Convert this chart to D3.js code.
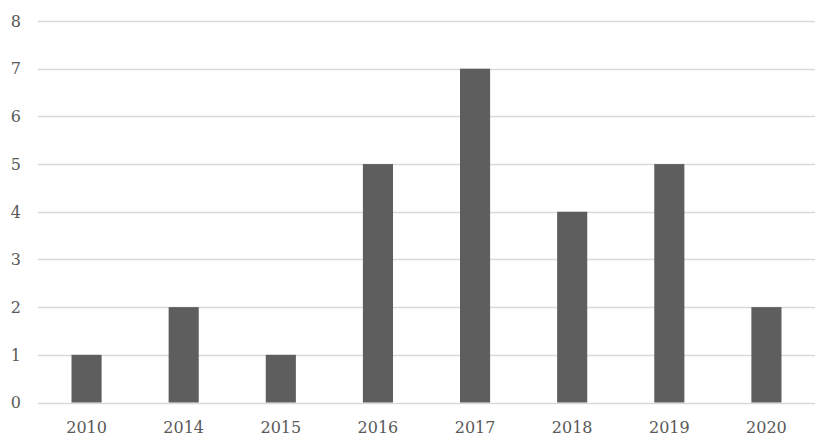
<!DOCTYPE html>
<html>
<head>
<meta charset="utf-8">
<script src="https://cdn.jsdelivr.net/npm/d3@7"></script>
<style>
  html, body { margin: 0; padding: 0; background: #fff; }
  svg { display: block; }
  text { font-family: "DejaVu Serif", serif; fill: #595959; }
</style>
</head>
<body>
<svg id="chart" width="822" height="444"></svg>
<script>
const categories = ["2010", "2014", "2015", "2016", "2017", "2018", "2019", "2020"];
const values = [1, 2, 1, 5, 7, 4, 5, 2];
const yTicks = [0, 1, 2, 3, 4, 5, 6, 7, 8];

(function () {
const svg = d3.select("#chart");
const plotLeft = 38, plotRight = 815, plotTop = 21, plotBottom = 402.5;

const x = d3.scaleBand().domain(categories).range([plotLeft, plotRight]).paddingInner(0.69).paddingOuter(0.345);
const y = d3.scaleLinear().domain([0, 8]).range([plotBottom, plotTop]);

// gridlines
svg.append("g").selectAll("line").data(yTicks).join("line")
  .attr("x1", plotLeft).attr("x2", plotRight)
  .attr("y1", d => Math.round(y(d)) + 0.5).attr("y2", d => Math.round(y(d)) + 0.5)
  .attr("stroke", "#d9d9d9").attr("stroke-width", 1.3);

// y labels
svg.append("g").selectAll("text").data(yTicks).join("text")
  .attr("x", 21).attr("y", d => y(d)).attr("dy", "0.36em")
  .attr("text-anchor", "end").attr("font-size", 16)
  .text(d => d);

// bars
svg.append("g").selectAll("rect").data(values).join("rect")
  .attr("x", (d, i) => x(categories[i]))
  .attr("width", x.bandwidth())
  .attr("y", d => y(d))
  .attr("height", d => y(0) - y(d))
  .attr("fill", "#5e5e5e");

// x labels
svg.append("g").selectAll("text").data(categories).join("text")
  .attr("x", d => x(d) + x.bandwidth() / 2).attr("y", 432.5)
  .attr("text-anchor", "middle").attr("font-size", 16)
  .text(d => d);
})();
</script>
</body>
</html>
